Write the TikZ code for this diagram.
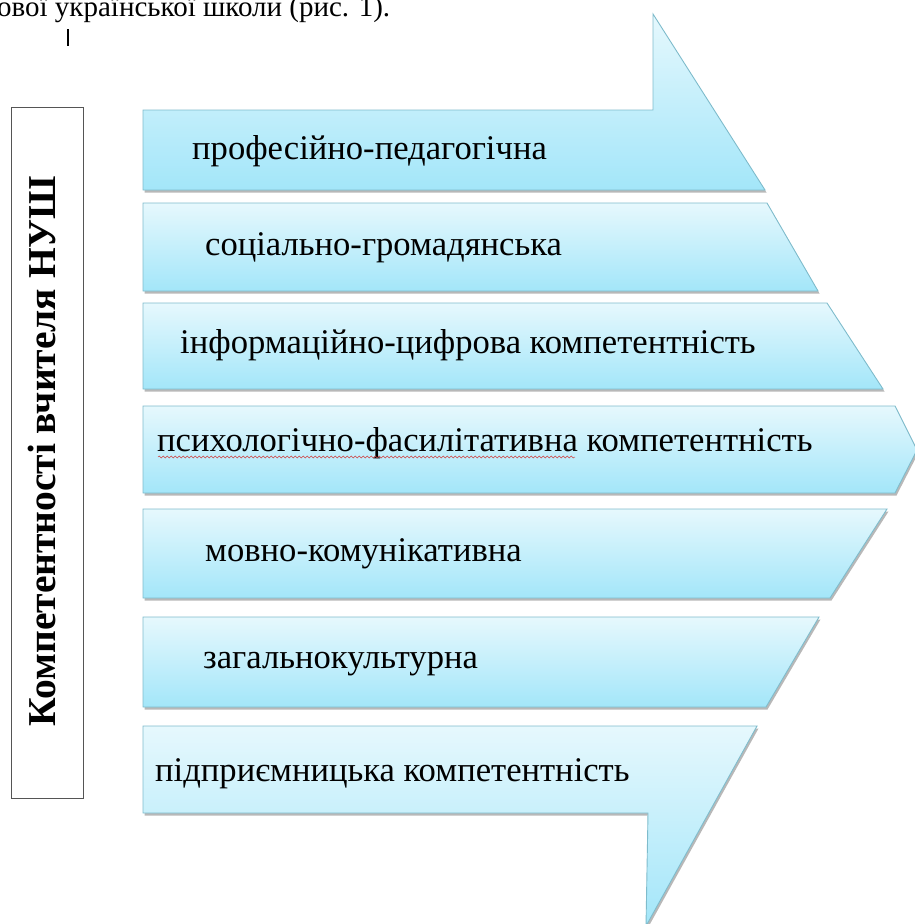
\documentclass[tikz,border=0pt]{standalone}
\usepackage{fontspec}
\setmainfont{Liberation Serif}
\usetikzlibrary{decorations.pathmorphing,shadows}
\definecolor{bandtop}{HTML}{E6F8FD}
\definecolor{bandbot}{HTML}{A3E6F9}
\definecolor{bandedge}{HTML}{7FBCCC}
\definecolor{boxedge}{HTML}{555555}
\definecolor{wavyred}{HTML}{D04040}
\begin{document}
\begin{tikzpicture}[x=1pt,y=-1pt,
  band/.style={draw=bandedge, line width=0.9pt, top color=bandtop, bottom color=bandbot,
    drop shadow={shadow xshift=1.5pt, shadow yshift=-2.5pt, opacity=0.28, fill=black}},
  lbl/.style={anchor=base west, inner sep=0pt, font=\fontsize{34.6}{40}\selectfont},
  titlebox/.style={draw=boxedge, line width=1pt, minimum width=72pt, minimum height=691pt, inner sep=0pt},
  titletext/.style={rotate=90, anchor=base, inner sep=0pt, font=\fontsize{39.5}{46}\selectfont\bfseries}]
\useasboundingbox (0,0) rectangle (915,924);

% intro text (cut at top, as in the reference)
\node (intro) [anchor=base west, inner sep=0pt, font=\fontsize{29}{34}\selectfont] at (-3,16) {ової української школи (рис. 1).};
\coordinate (c1) at (68,29);
\coordinate (c2) at (68,46);
\draw[line width=1.5pt] (c1) -- (c2);

% vertical title box
\node (box) [titlebox] at (47,452.5) {};
\node (title) [titletext] at (55,451) {Компетентності вчителя НУШ};

% bands
\path[band] (143,110) -- (653,110) -- (653,14) -- (765,190) -- (143,190) -- cycle;
\path[band] (143,203) -- (767,203) -- (818,291) -- (143,291) -- cycle;
\path[band] (143,303) -- (827,303) -- (883,389) -- (143,389) -- cycle;
\path[band] (143,406) -- (895,406) -- (917,450) -- (895,493) -- (143,493) -- cycle;
\path[band] (143,509) -- (887,509) -- (830,598) -- (143,598) -- cycle;
\path[band] (143,617) -- (819,617) -- (766,707) -- (143,707) -- cycle;
\path[band] (143,726) -- (757,726) -- (646,926) -- (648,813) -- (143,813) -- cycle;

% labels
\node (l1) [lbl] at (192,159) {професійно-педагогічна};
\node (l2) [lbl] at (205,255) {соціально-громадянська};
\node (l3) [lbl] at (180,353) {інформаційно-цифрова компетентність};
\node (l4) [lbl] at (157,451) {психологічно-фасилітативна компетентність};
\node (l5) [lbl] at (205,561) {мовно-комунікативна};
\node (l6) [lbl] at (203,668) {загальнокультурна};
\node (l7) [lbl] at (155,781) {підприємницька компетентність};

% spell-check underline
\coordinate (w1) at (158,457);
\coordinate (w2) at (575,457);
\draw[wavyred, line width=0.5pt, decorate, decoration={snake, amplitude=1pt, segment length=4pt}] (w1) -- (w2);
\end{tikzpicture}
\end{document}
